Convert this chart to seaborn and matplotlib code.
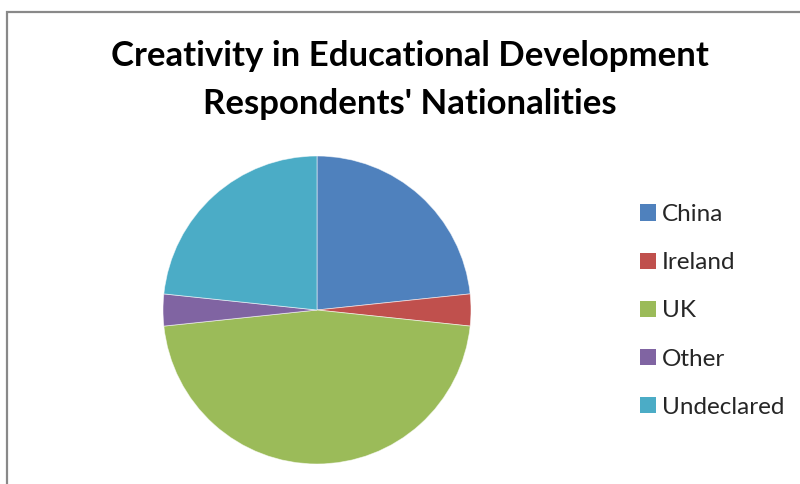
import matplotlib
matplotlib.use("Agg")
import matplotlib.pyplot as plt
from matplotlib.patches import Patch, Rectangle
import seaborn as sns

# Respondents by nationality
categories = ["China", "Ireland", "UK", "Other", "Undeclared"]
counts = [7, 1, 14, 1, 7]
colors = ["#4F81BD", "#C0504D", "#9BBB59", "#8064A2", "#4BACC6"]

title_lines = ["Creativity in Educational Development", "Respondents' Nationalities"]

sns.set_theme(style="white")
plt.rcParams["font.family"] = ["Lato", "DejaVu Sans"]

fig = plt.figure(figsize=(8.0, 4.84), dpi=100)
fig.patch.set_facecolor("white")

# thin grey chart-area border (top and left edges visible)
fig.add_artist(Rectangle((7 / 800, -0.05), 1.2, 1 - 12 / 484 + 0.05,
                         transform=fig.transFigure, fill=False,
                         edgecolor="#898989", linewidth=1.6))

ax = fig.add_axes([163 / 800, 20 / 484, 308 / 800, 308 / 484])
palette = sns.color_palette(colors)
wedges, _ = ax.pie(counts, colors=palette, startangle=90, counterclock=False,
                   radius=1.0,
                   wedgeprops=dict(edgecolor=(1, 1, 1, 0.6), linewidth=0.6))
ax.set_xlim(-1, 1)
ax.set_ylim(-1, 1)
ax.set_aspect("auto")
ax.axis("off")

fig.text(410 / 800, 1 - 66 / 484, title_lines[0], ha="center", va="baseline",
         fontsize=25, fontweight="bold", color="black")
fig.text(410 / 800, 1 - 114 / 484, title_lines[1], ha="center", va="baseline",
         fontsize=25, fontweight="bold", color="black")

handles = [Patch(facecolor=c, edgecolor="none") for c in palette]
fig.legend(handles, categories, loc="upper left",
           bbox_to_anchor=(640 / 800, 1 - 204 / 484), frameon=False,
           fontsize=17.5, handlelength=0.65, handleheight=0.65,
           handletextpad=0.25, labelspacing=1.12, borderpad=0, borderaxespad=0)

fig.savefig("out.png", dpi=100, facecolor="white")
